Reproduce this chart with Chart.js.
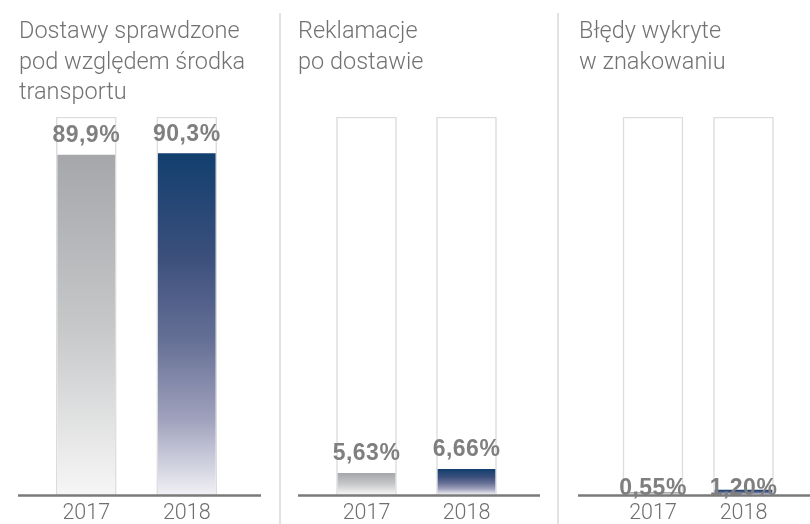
<!DOCTYPE html>
<html>
<head>
<meta charset="utf-8">
<script src="https://cdn.jsdelivr.net/npm/chart.js@4/dist/chart.umd.min.js"></script>
<style>
  html, body { margin: 0; padding: 0; background: #fff; overflow: hidden; }
  #wrap { position: relative; width: 810px; height: 524px; overflow: hidden; }
  .panel { position: absolute; top: 0; height: 524px; overflow: hidden; }
  .panel canvas { position: absolute; left: 0; top: 0; }
  .title { position: absolute; top: 15px; font-family: Roboto, "Liberation Sans", sans-serif; font-weight: 300;
           font-size: 23.5px; line-height: 30.5px; color: #727272; white-space: nowrap; }
  .divider { position: absolute; top: 13px; bottom: 0; width: 2px; background: #e2e2e2; }
</style>
</head>
<body>
<div id="wrap">
  <div class="panel" style="left:0;width:280px"><canvas id="c1"></canvas><div class="title" id="t1" style="left:19px"></div></div>
  <div class="panel" style="left:280px;width:280px"><canvas id="c2"></canvas><div class="title" id="t2" style="left:18px"></div></div>
  <div class="panel" style="left:560px;width:250px"><canvas id="c3"></canvas><div class="title" id="t3" style="left:19px"></div></div>
  <div class="divider" style="left:279px"></div>
  <div class="divider" style="left:557px"></div>
</div>
<script>
// ---- data ----
const years = ['2017', '2018'];
const fullScale = [100, 100];
const deliveriesChecked = [89.9, 90.3];
const complaints = [5.63, 6.66];
const labelErrors = [0.55, 1.20];
const title1 = ['Dostawy sprawdzone', 'pod względem środka', 'transportu'];
const title2 = ['Reklamacje', 'po dostawie'];
const title3 = ['Błędy wykryte', 'w znakowaniu'];

// ---- styles ----
const greyStops = [[0, '#a6a7aa'], [0.5, '#c6c7c9'], [1, '#f6f6f6']];
const navyStops = [[0, '#123f6e'], [0.3, '#3b4f7c'], [0.55, '#667096'], [0.78, '#a0a2bd'], [1, '#f0f0f5']];

function barGradient(ctx) {
  const stops = ctx.dataIndex === 0 ? greyStops : navyStops;
  const chart = ctx.chart;
  const ys = chart.scales && chart.scales.y;
  if (!ys || ctx.raw == null) return stops[0][1];
  const top = ys.getPixelForValue(ctx.raw);
  const bottom = ys.getPixelForValue(0);
  if (!isFinite(top) || !isFinite(bottom) || Math.abs(bottom - top) < 0.01) return stops[0][1];
  const g = chart.ctx.createLinearGradient(0, top, 0, bottom);
  stops.forEach(([o, c]) => g.addColorStop(o, c));
  return g;
}

const baseLine = {
  id: 'baseLine',
  afterDatasetsDraw(chart, args, opts) {
    const ctx = chart.ctx;
    const y = chart.scales.y.getPixelForValue(0) + 1;
    ctx.save();
    ctx.strokeStyle = '#7a7a7a';
    ctx.lineWidth = 2.5;
    ctx.beginPath();
    ctx.moveTo(opts.from, y);
    ctx.lineTo(opts.to, y);
    ctx.stroke();
    ctx.restore();
  }
};

const valueLabels = {
  id: 'valueLabels',
  afterDatasetsDraw(chart, args, opts) {
    const ctx = chart.ctx;
    const meta = chart.getDatasetMeta(0);
    const data = chart.data.datasets[0].data;
    const base = chart.scales.y.getPixelForValue(0);
    ctx.save();
    ctx.font = 'bold 23px "Liberation Sans", Arial, sans-serif';
    if ('letterSpacing' in ctx) ctx.letterSpacing = '0.5px';
    ctx.fillStyle = '#7f7f7f';
    ctx.textAlign = 'center';
    ctx.textBaseline = 'alphabetic';
    meta.data.forEach((el, i) => {
      const text = data[i].toFixed(opts.decimals).replace('.', ',') + '%';
      const y = opts.atBase ? base : el.y - 13;
      ctx.fillText(text, el.x, y);
    });
    ctx.restore();
  }
};

function makeChart(id, width, values, pad, lineFrom, lineTo, decimals, atBase) {
  const canvas = document.getElementById(id);
  const h = 532;
  canvas.width = width; canvas.height = h;
  canvas.style.width = width + 'px'; canvas.style.height = h + 'px';
  return new Chart(canvas, {
    type: 'bar',
    data: {
      labels: years,
      datasets: [
        { data: values, backgroundColor: barGradient, borderWidth: 0, barThickness: 57, grouped: false },
        { data: fullScale, backgroundColor: '#ffffff', borderColor: '#dcdcdc', borderWidth: 1.5,
          borderSkipped: false, barThickness: 60, grouped: false }
      ]
    },
    options: {
      responsive: false,
      animation: false,
      devicePixelRatio: 1,
      layout: { padding: { top: 117, left: pad[0], right: pad[1], bottom: 0 } },
      scales: {
        x: {
          offset: true,
          grid: { display: false, drawTicks: false, tickLength: 0 },
          border: { display: false },
          ticks: { color: '#6e6e6e', padding: 8,
                   font: { family: 'Roboto, "Liberation Sans", sans-serif', size: 21.5, weight: 300, lineHeight: 1 } }
        },
        y: { display: false, min: 0, max: 100 }
      },
      plugins: {
        legend: { display: false },
        tooltip: { enabled: false },
        title: { display: false },
        baseLine: { from: lineFrom, to: lineTo },
        valueLabels: { decimals: decimals, atBase: atBase }
      }
    },
    plugins: [baseLine, valueLabels]
  });
}

document.getElementById('t1').innerHTML = title1.join('<br>');
document.getElementById('t2').innerHTML = title2.join('<br>');
document.getElementById('t3').innerHTML = title3.join('<br>');

makeChart('c1', 280, deliveriesChecked, [36, 43], 18, 261, 1, false);
makeChart('c2', 280, complaints, [36.5, 43.5], 18, 260, 2, false);
makeChart('c3', 250, labelErrors, [47.75, 21.25], 18, 250, 2, true);
</script>
</body>
</html>
